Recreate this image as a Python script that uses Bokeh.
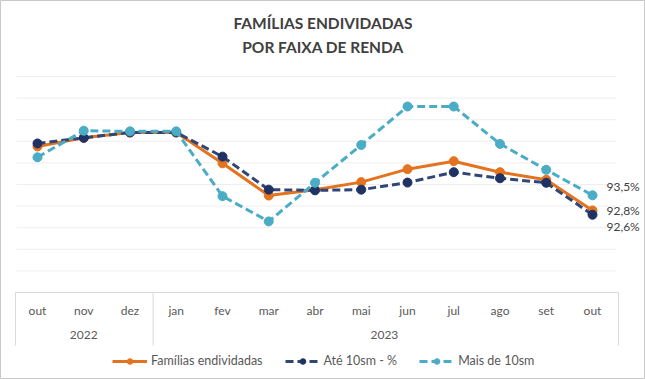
from bokeh.plotting import figure
from bokeh.models import Range1d, Label, Legend, LegendItem, ColumnDataSource
from bokeh.core.properties import value
from bokeh.embed import file_html
from bokeh.resources import INLINE

years = ["2022", "2022", "2022", "2023", "2023", "2023", "2023", "2023", "2023", "2023", "2023", "2023", "2023"]
months = ["out", "nov", "dez", "jan", "fev", "mar", "abr", "mai", "jun", "jul", "ago", "set", "out"]
familias = [95.76, 96.16, 96.41, 96.41, 94.98, 93.49, 93.76, 94.11, 94.71, 95.08, 94.57, 94.22, 92.8]
ate10 = [95.9, 96.16, 96.41, 96.41, 95.29, 93.76, 93.73, 93.76, 94.09, 94.57, 94.29, 94.08, 92.6]
mais10 = [95.26, 96.49, 96.46, 96.46, 93.46, 92.29, 94.08, 95.83, 97.61, 97.61, 95.88, 94.68, 93.5]
last_labels = ["92,8%", "92,6%", "93,5%"]
title_lines = ["FAMÍLIAS ENDIVIDADAS", "POR FAIXA DE RENDA"]
grid_values = list(range(90, 100))

FONT = "Lato"
ORANGE = "#E3731E"
NAVY_LINE = "#2F4676"
NAVY_DOT = "#1F3264"
LIGHT = "#4BACC6"
TXT = "#595959"
DARK_TXT = "#404040"
BOX = "#D9D9D9"

W, H = 645, 379
# layout: px per category and per unit, position of first category and of the value 89 (in figure px)
PX_X, X0_PX = 46.25, 37.0
PX_Y, Y89_PX = 21.6, 292.0
Y_MIN = 89

def vx(px):  # figure px (from left) -> x data
    return (px - X0_PX) / PX_X

def vy(py):  # figure px (from top) -> y data
    return Y_MIN + (Y89_PX - py) / PX_Y

p = figure(width=W, height=H, x_range=Range1d(vx(0), vx(W)), y_range=Range1d(vy(H), vy(0)),
           output_backend="svg", toolbar_location=None, x_axis_location=None, y_axis_location=None,
           min_border=0)
p.outline_line_color = "#C8C8C8"
p.outline_line_width = 1
p.grid.visible = False

n = len(months)
idx = list(range(n))

# horizontal gridlines
p.segment(x0=[vx(16)] * len(grid_values), x1=[vx(616)] * len(grid_values), y0=grid_values, y1=grid_values,
          line_color="#EEEEEE", line_width=1)

# category axis box
p.segment(x0=[vx(15)], x1=[vx(618)], y0=[Y_MIN], y1=[Y_MIN], line_color=BOX, line_width=1)
groups = []
for i, yv in enumerate(years):
    if not groups or groups[-1][0] != yv:
        groups.append([yv, i, i])
    else:
        groups[-1][2] = i
sep_x = [vx(15)] + [g[1] - 0.5 for g in groups[1:]] + [vx(618)]
p.segment(x0=sep_x, x1=sep_x, y0=[Y_MIN] * len(sep_x), y1=[vy(345)] * len(sep_x), line_color=BOX, line_width=1)

p.text(x=idx, y=[vy(310)] * n, text=months, text_font=value(FONT), text_font_size="12px",
       text_color=TXT, text_align="center", text_baseline="middle")
p.text(x=[(g[1] + g[2]) / 2 for g in groups], y=[vy(334)] * len(groups), text=[g[0] for g in groups],
       text_font=value(FONT), text_font_size="12px", text_color=TXT, text_align="center", text_baseline="middle")

src = ColumnDataSource(dict(x=idx, f=familias, a=ate10, m=mais10))
l1 = p.line("x", "f", source=src, line_color=ORANGE, line_width=3)
s1 = p.scatter("x", "f", source=src, size=9, fill_color=ORANGE, line_color=ORANGE)
l2 = p.line("x", "a", source=src, line_color=NAVY_LINE, line_width=3, line_dash="8 4")
s2 = p.scatter("x", "a", source=src, size=9, fill_color=NAVY_DOT, line_color=NAVY_DOT)
l3 = p.line("x", "m", source=src, line_color=LIGHT, line_width=3, line_dash="8 4")
s3 = p.scatter("x", "m", source=src, size=9, fill_color=LIGHT, line_color=LIGHT)

# data labels at last point
for val, txt, dy in [(familias[-1], last_labels[0], 0), (ate10[-1], last_labels[1], -12), (mais10[-1], last_labels[2], 9)]:
    p.add_layout(Label(x=idx[-1], y=val, text=txt, x_offset=14, y_offset=dy, text_font=FONT,
                       text_font_size="12px", text_color=DARK_TXT, text_baseline="middle"))

# title
for t, py in zip(title_lines, [22, 46]):
    p.add_layout(Label(x=vx(W / 2), y=vy(py), text=t, text_font=FONT,
                       text_font_size="15.5px", text_font_style="bold", text_color=DARK_TXT,
                       text_align="center", text_baseline="middle"))

legend = Legend(items=[LegendItem(label="Famílias endividadas", renderers=[l1, s1]),
                       LegendItem(label="Até 10sm - %", renderers=[l2, s2]),
                       LegendItem(label="Mais de 10sm", renderers=[l3, s3])],
                orientation="horizontal", location=(112, 11), glyph_width=35, glyph_height=14,
                label_text_font=FONT, label_text_font_size="12.5px", label_text_color=TXT,
                border_line_color=None, background_fill_alpha=0, spacing=22, padding=2,
                label_standoff=4, margin=0, label_height=14)
p.add_layout(legend, "center")

open("out.html", "w").write(file_html(p, INLINE))
